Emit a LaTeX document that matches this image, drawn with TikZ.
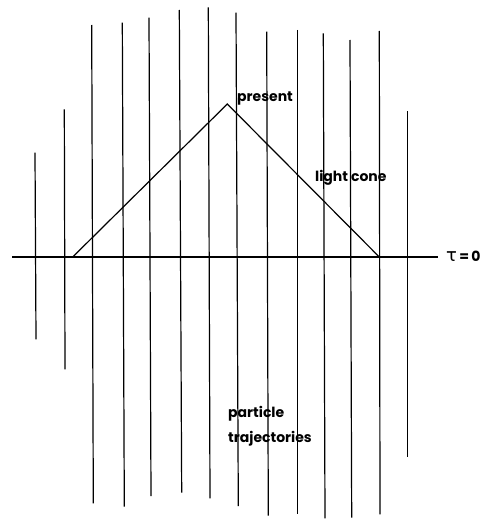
\documentclass[tikz,border=0pt]{standalone}
\usepackage{fontspec}
\setmainfont{Poppins}
\newfontfamily\grk{DejaVu Sans}
\begin{document}
\begin{tikzpicture}[x=1pt,y=-1pt,
  traj/.style={line width=1.2pt},
  lbl/.style={font=\fontsize{14}{25}\selectfont\bfseries, inner sep=0pt}]
\useasboundingbox (0,0) rectangle (485,519);
% particle trajectories (top x, top y, bottom x, bottom y)
\foreach \xa/\ya/\xb/\yb in {
  35/152.7/36/339.3,
  64.3/109.3/65/369.3,
  91.7/25/93.3/503.3,
  122.3/22.7/124.3/506.7,
  149/17.7/151/496,
  179.3/10/181.7/492.7,
  208.3/7.3/210/498.3,
  236/12.7/238.3/506,
  266.7/31.7/268.3/515.7,
  297.3/30/297.3/514.3,
  323.3/33.3/325/518.3,
  350/40/351.7/517.7,
  379.3/31/380/514.3,
  407.3/111/407.3/457.3}
  \draw[traj] (\xa,\ya) -- (\xb,\yb);
% time axis
\coordinate (axL) at (12,257);
\coordinate (axR) at (438,257);
\draw[traj] (axL) -- (axR);
\node[lbl, anchor=west] (tau) at (446,256) {{\grk\mdseries\fontsize{18}{18}\selectfont τ}\,=\,0};
% light cone
\coordinate (apex) at (227.3,104);
\coordinate (baseL) at (72.7,257);
\coordinate (baseR) at (379.3,257);
\draw[traj, line join=miter] (baseL) -- (apex) -- (baseR);
\node[lbl, anchor=west] (present) at (237,99) {present};
\node[lbl, anchor=west] (cone) at (315,178) {light cone};
\node[lbl, anchor=north west, align=left] (part) at (228,406) {particle\\trajectories};
\end{tikzpicture}
\end{document}
